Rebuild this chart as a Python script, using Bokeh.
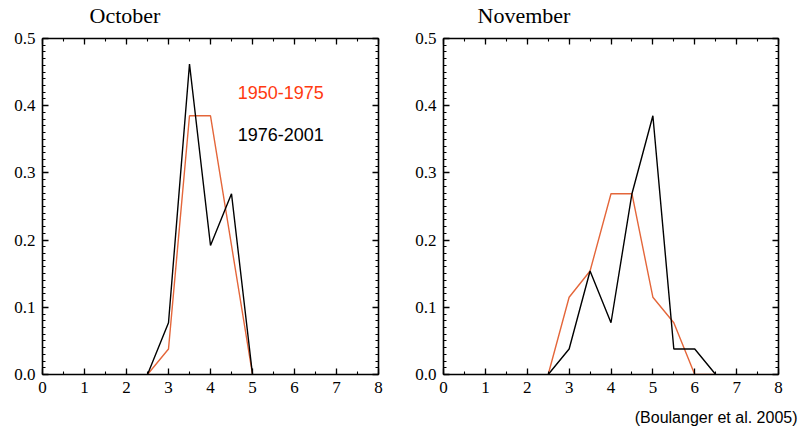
from bokeh.plotting import figure
from bokeh.layouts import row
from bokeh.models import (LinearAxis, FixedTicker, Label, Range1d, PrintfTickFormatter,
                          Title, CustomLabelingPolicy)
from bokeh.embed import file_html
from bokeh.resources import INLINE

# ---- data (frequency of events vs. x, two periods) ----
oct_x = [2.5, 3.0, 3.5, 4.0, 4.5, 5.0]
oct_early = [0.0, 0.038, 0.385, 0.385, 0.192, 0.0]   # 1950-1975
oct_late = [0.0, 0.077, 0.462, 0.192, 0.269, 0.0]    # 1976-2001

nov_x = [2.5, 3.0, 3.5, 4.0, 4.5, 5.0, 5.5, 6.0, 6.5]
nov_early = [0.0, 0.115, 0.154, 0.269, 0.269, 0.115, 0.077, 0.0, 0.0]
nov_late = [0.0, 0.038, 0.154, 0.077, 0.269, 0.385, 0.038, 0.038, 0.0]

x_ticks = [0, 1, 2, 3, 4, 5, 6, 7, 8]
y_ticks = [0.0, 0.1, 0.2, 0.3, 0.4, 0.5]
series_labels = ["1950-1975", "1976-2001"]
panel_titles = ["October", "November"]
source_note = "(Boulanger et al. 2005)"

ORANGE = "#E4663A"
LEGEND_ORANGE = "#FF3A10"
SERIF = "Liberation Serif"
SANS = "Liberation Sans"

x_minor = [i * 0.5 for i in range(17)]
y_minor = [round(i * 0.01, 2) for i in range(51)]


def style_axis(ax, labels=True):
    ax.axis_line_width = 1.6
    ax.axis_line_color = "black"
    ax.major_tick_in = 6
    ax.major_tick_out = 0
    ax.minor_tick_in = 3
    ax.minor_tick_out = 0
    ax.major_tick_line_width = 1.3
    ax.minor_tick_line_width = 1.1
    ax.major_tick_line_color = "black"
    ax.minor_tick_line_color = "black"
    if labels:
        ax.major_label_text_font = SERIF
        ax.major_label_text_font_size = "17px"
        ax.major_label_text_color = "black"
        ax.major_label_standoff = 7
    else:
        ax.major_label_policy = CustomLabelingPolicy(code="return new Set()")
        ax.major_label_standoff = 0


def make_panel(title, title_offset, xs, early, late, border_left, show_legend, show_note):
    p = figure(width=400, height=441, output_backend="svg", toolbar_location=None,
               x_range=Range1d(0, 8), y_range=Range1d(0, 0.5),
               min_border_left=border_left, min_border_right=22,
               min_border_top=37, min_border_bottom=67)
    p.outline_line_color = None
    p.grid.visible = False
    p.background_fill_color = "white"
    p.border_fill_color = "white"

    p.title = Title(text=title, align="left", offset=title_offset, text_font=SERIF,
                    text_font_size="22px", text_font_style="normal",
                    text_color="black", standoff=0)

    p.xaxis.ticker = FixedTicker(ticks=x_ticks, minor_ticks=x_minor)
    p.yaxis.ticker = FixedTicker(ticks=y_ticks, minor_ticks=y_minor)
    p.xaxis.formatter = PrintfTickFormatter(format="%d")
    p.yaxis.formatter = PrintfTickFormatter(format="%.1f")
    for ax in p.xaxis:
        style_axis(ax)
    for ax in p.yaxis:
        style_axis(ax)

    top = LinearAxis(ticker=FixedTicker(ticks=x_ticks, minor_ticks=x_minor))
    style_axis(top, labels=False)
    p.add_layout(top, "above")
    right = LinearAxis(ticker=FixedTicker(ticks=y_ticks, minor_ticks=y_minor))
    style_axis(right, labels=False)
    p.add_layout(right, "right")

    p.line(xs, early, line_color=ORANGE, line_width=1.4)
    p.line(xs, late, line_color="black", line_width=1.4)

    if show_legend:
        p.add_layout(Label(x=4.65, y=0.419, text=series_labels[0], text_font=SANS,
                           text_font_size="18px", text_color=LEGEND_ORANGE,
                           text_baseline="middle", text_align="left"))
        p.add_layout(Label(x=4.65, y=0.357, text=series_labels[1], text_font=SANS,
                           text_font_size="18px", text_color="black",
                           text_baseline="middle", text_align="left"))
    if show_note:
        p.add_layout(Title(text=source_note, align="right", offset=-19, text_font=SANS,
                           text_font_size="16px", text_font_style="normal",
                           text_color="black", standoff=23), "below")
    return p


p1 = make_panel(panel_titles[0], 47, oct_x, oct_early, oct_late, 42, True, False)
p2 = make_panel(panel_titles[1], 34, nov_x, nov_early, nov_late, 43, False, True)

layout = row(p1, p2)
open("out.html", "w").write(file_html(layout, INLINE))
